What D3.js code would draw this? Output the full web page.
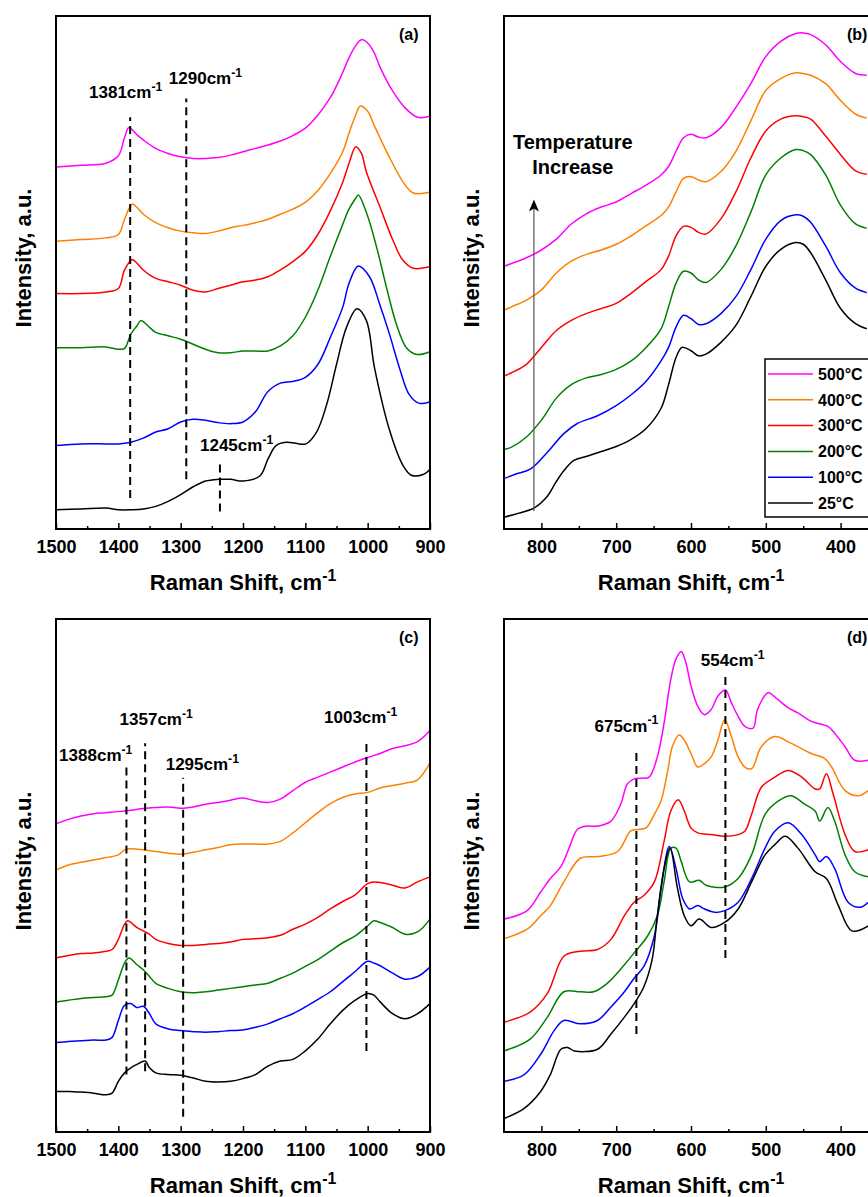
<!DOCTYPE html>
<html>
<head>
<meta charset="utf-8">
<script src="https://cdn.jsdelivr.net/npm/d3@7"></script>
<style>
  body { margin: 0; background: #fff; }
  svg { display: block; }
</style>
</head>
<body>
<svg id="chart" width="868" height="1197"></svg>
<script>
// series labels / colours, top trace first
const temps = ["500°C", "400°C", "300°C", "200°C", "100°C", "25°C"];
const colors = ["#ff00ff", "#ff8000", "#ff0000", "#008000", "#0000ff", "#000000"];

// x ticks
const ticksHigh = [1500, 1400, 1300, 1200, 1100, 1000, 900];
const minorHigh = [1450, 1350, 1250, 1150, 1050, 950];
const ticksLow = [800, 700, 600, 500, 400];
const minorLow = [750, 650, 550, 450];

// panel (a): [Raman shift, intensity a.u.]
const a500 = [[1500,1075],[1460,1080],[1420,1086],[1400,1108],[1390,1162],[1383,1192],[1370,1170],[1360,1155],[1340,1130],[1320,1115],[1300,1105],[1280,1100],[1260,1100],[1240,1103],[1220,1110],[1200,1120],[1180,1130],[1160,1140],[1140,1152],[1120,1168],[1100,1190],[1080,1228],[1060,1280],[1050,1315],[1040,1355],[1030,1398],[1020,1432],[1010,1452],[1000,1442],[990,1415],[980,1370],[960,1300],[940,1250],[920,1222],[900,1225]];
const a400 = [[1500,855],[1460,860],[1420,865],[1400,875],[1390,920],[1378,965],[1370,955],[1360,935],[1340,910],[1320,895],[1300,885],[1280,880],[1260,878],[1240,885],[1220,895],[1200,902],[1180,910],[1160,920],[1140,935],[1120,950],[1100,970],[1080,1005],[1060,1055],[1040,1120],[1030,1175],[1020,1225],[1012,1255],[1000,1240],[990,1200],[980,1160],[964,1100],[943,1030],[927,998],[900,1000]];
const a300 = [[1500,700],[1460,700],[1420,705],[1400,715],[1390,770],[1378,800],[1370,790],[1360,770],[1340,745],[1320,735],[1300,725],[1280,710],[1260,705],[1240,715],[1220,725],[1200,735],[1180,740],[1160,750],[1140,770],[1120,795],[1100,825],[1080,875],[1060,945],[1040,1030],[1030,1085],[1019,1135],[1010,1115],[1002,1060],[981,960],[960,860],[944,800],[927,775],[900,780]];
const a200 = [[1500,540],[1460,540],[1420,542],[1400,535],[1390,538],[1380,580],[1370,605],[1364,620],[1350,600],[1340,585],[1320,575],[1300,565],[1280,550],[1260,535],[1240,525],[1220,525],[1200,530],[1180,530],[1160,530],[1140,545],[1120,575],[1100,630],[1080,710],[1060,810],[1040,905],[1030,950],[1020,980],[1015,992],[1002,940],[986,840],[970,720],[954,610],[938,540],[921,520],[900,528]];
const a100 = [[1500,250],[1460,255],[1420,255],[1400,255],[1380,260],[1360,272],[1340,290],[1320,300],[1300,320],[1280,328],[1260,325],[1240,318],[1220,315],[1200,320],[1180,350],[1160,410],[1140,435],[1120,440],[1100,452],[1080,490],[1060,570],[1040,660],[1030,730],[1015,782],[997,750],[981,670],[965,580],[949,480],[933,400],[917,375],[900,380]];
const a25 = [[1500,60],[1460,62],[1420,65],[1400,60],[1380,60],[1360,62],[1340,70],[1320,85],[1300,105],[1280,128],[1260,145],[1240,150],[1220,150],[1200,145],[1173,160],[1160,210],[1147,250],[1131,260],[1110,255],[1099,255],[1082,290],[1066,370],[1050,490],[1034,600],[1017,655],[1002,620],[989,480],[964,290],[943,190],[930,162],[910,165],[900,180]];

// panel (b)
const b500 = [[850,780],[840,788],[820,805],[800,828],[780,860],[760,905],[740,935],[720,955],[700,970],[680,995],[660,1020],[640,1050],[630,1075],[620,1120],[610,1160],[600,1170],[590,1162],[580,1160],[560,1190],[540,1250],[520,1320],[500,1400],[480,1445],[460,1468],[450,1470],[440,1465],[420,1435],[400,1385],[380,1350],[365,1345]];
const b400 = [[850,650],[840,660],[820,680],[800,710],[780,760],[760,795],[740,815],[720,828],[700,845],[680,870],[660,900],[640,930],[630,955],[620,1000],[610,1040],[600,1045],[590,1035],[580,1030],[560,1060],[540,1120],[520,1210],[500,1300],[480,1335],[460,1352],[450,1350],[440,1345],[420,1320],[400,1270],[380,1230],[365,1218]];
const b300 = [[850,455],[840,465],[820,490],[800,540],[780,590],[760,620],[740,640],[720,655],[700,670],[680,700],[660,735],[640,770],[630,810],[620,870],[610,898],[600,895],[590,880],[580,875],[560,920],[540,1000],[520,1100],[500,1180],[480,1215],[460,1225],[450,1222],[440,1215],[420,1165],[400,1110],[380,1062],[365,1052]];
const b200 = [[850,238],[840,245],[820,275],[800,325],[780,390],[760,430],[740,450],[720,460],[700,475],[680,500],[660,540],[640,595],[630,660],[620,730],[610,765],[600,760],[590,740],[580,732],[560,770],[540,840],[520,940],[500,1050],[480,1100],[460,1125],[450,1122],[440,1110],[420,1050],[400,960],[380,905],[365,892]];
const b100 = [[850,152],[835,165],[815,180],[792,230],[770,285],[752,315],[725,338],[700,368],[680,400],[660,440],[640,500],[630,540],[620,600],[610,635],[600,625],[590,608],[580,610],[560,640],[540,690],[520,770],[500,860],[480,915],[460,932],[450,928],[440,910],[420,840],[400,760],[380,715],[365,702]];
const b25 = [[850,38],[830,50],[810,65],[792,100],[781,140],[770,175],[757,205],[739,218],[720,232],[700,247],[680,268],[660,300],[640,360],[630,430],[620,510],[612,540],[600,530],[590,515],[580,520],[560,555],[540,605],[520,690],[500,780],[480,830],[460,850],[450,845],[440,820],[420,740],[400,655],[380,610],[365,595]];

// panel (c)
const c500 = [[1500,912],[1480,925],[1460,935],[1440,942],[1420,945],[1400,948],[1380,952],[1360,957],[1340,960],[1320,962],[1300,958],[1280,962],[1260,970],[1240,975],[1220,982],[1200,988],[1180,980],[1160,975],[1140,985],[1120,1010],[1100,1035],[1080,1050],[1060,1065],[1040,1080],[1020,1095],[1000,1108],[980,1120],[960,1135],[940,1143],[920,1155],[900,1188]];
const c400 = [[1500,775],[1480,790],[1460,798],[1440,805],[1420,812],[1400,820],[1390,835],[1380,838],[1360,835],[1340,830],[1320,825],[1300,822],[1280,828],[1260,835],[1240,842],[1220,850],[1200,852],[1180,852],[1160,852],[1140,860],[1120,885],[1100,915],[1080,945],[1060,972],[1040,990],[1020,1000],[1000,1005],[980,1018],[960,1025],[940,1032],[920,1042],[900,1092]];
const c300 = [[1500,515],[1480,522],[1460,528],[1440,530],[1420,535],[1410,540],[1400,570],[1390,615],[1385,625],[1370,605],[1360,595],[1350,585],[1340,570],[1320,558],[1300,552],[1280,552],[1260,555],[1240,558],[1220,562],[1200,570],[1180,572],[1160,575],[1140,582],[1120,600],[1100,615],[1080,635],[1060,660],[1040,682],[1020,702],[1000,735],[990,740],[980,738],[960,730],[940,722],[920,740],[900,755]];
const c200 = [[1500,385],[1480,390],[1460,395],[1440,398],[1420,400],[1410,405],[1400,450],[1390,500],[1383,515],[1370,495],[1360,480],[1350,460],[1340,440],[1320,425],[1300,415],[1280,412],[1260,415],[1240,420],[1220,425],[1200,430],[1180,435],[1160,440],[1140,455],[1120,470],[1100,490],[1080,510],[1060,535],[1040,560],[1020,580],[1000,610],[990,625],[980,620],[960,605],[940,585],[920,592],[900,630]];
const c100 = [[1500,265],[1480,268],[1460,270],[1440,272],[1420,272],[1410,280],[1400,330],[1390,375],[1380,380],[1370,368],[1360,372],[1350,350],[1340,320],[1320,305],[1300,300],[1280,297],[1260,295],[1240,297],[1220,300],[1200,302],[1180,310],[1160,320],[1140,335],[1120,350],[1100,370],[1080,392],[1060,415],[1040,445],[1020,475],[1000,505],[990,500],[980,492],[960,470],[940,452],[920,460],[900,488]];
const c25 = [[1500,120],[1480,120],[1460,118],[1440,115],[1420,110],[1410,115],[1400,150],[1390,175],[1380,190],[1370,200],[1357,210],[1350,190],[1340,175],[1320,170],[1300,168],[1280,160],[1260,150],[1240,148],[1220,150],[1200,158],[1180,170],[1160,195],[1140,210],[1120,215],[1100,240],[1080,275],[1060,320],[1040,360],[1020,390],[1000,410],[990,405],[980,385],[960,350],[940,335],[920,350],[900,380]];

// panel (d)
const d500 = [[850,630],[819,655],[801,710],[788,750],[774,785],[763,840],[752,895],[740,905],[725,905],[707,920],[694,970],[685,1030],[676,1045],[666,1047],[656,1050],[645,1110],[636,1210],[627,1340],[620,1400],[613,1422],[607,1390],[600,1320],[591,1260],[582,1235],[573,1250],[564,1290],[554,1308],[546,1270],[537,1230],[528,1200],[517,1195],[511,1250],[497,1300],[484,1280],[470,1255],[457,1240],[439,1215],[417,1200],[408,1180],[394,1140],[381,1100],[363,1100]];
const d400 = [[850,572],[819,600],[801,640],[788,670],[770,740],[748,810],[725,815],[698,830],[681,890],[672,895],[660,900],[649,940],[640,980],[631,1070],[625,1140],[616,1175],[609,1160],[600,1120],[591,1080],[582,1090],[573,1110],[564,1160],[555,1220],[546,1170],[537,1110],[528,1080],[519,1075],[506,1140],[488,1170],[466,1150],[439,1120],[421,1105],[412,1080],[394,1010],[376,995],[363,1010]];
const d300 = [[850,325],[815,355],[792,410],[770,520],[748,535],[725,540],[707,570],[689,640],[676,680],[663,700],[649,740],[636,860],[627,950],[617,983],[609,950],[600,900],[591,885],[573,880],[555,875],[537,880],[528,890],[519,940],[506,1020],[488,1050],[470,1070],[452,1050],[434,1015],[428,1015],[419,1060],[410,1000],[394,880],[381,830],[363,835]];
const d200 = [[850,240],[815,275],[792,340],[770,415],[748,415],[730,415],[712,440],[689,495],[676,530],[658,580],[645,640],[636,740],[627,840],[620,840],[613,800],[602,740],[589,745],[580,730],[555,725],[537,750],[519,820],[501,940],[483,980],[466,995],[448,970],[434,950],[428,920],[417,960],[408,920],[394,820],[381,770],[363,755]];
const d100 = [[850,150],[823,170],[801,230],[783,300],[770,330],[748,320],[725,330],[707,370],[689,415],[676,455],[663,490],[649,580],[640,720],[629,845],[620,780],[611,690],[602,660],[591,670],[582,660],[568,650],[555,655],[537,680],[519,750],[501,840],[488,890],[470,915],[452,880],[434,820],[428,800],[419,815],[408,780],[390,680],[374,665],[363,680]];
const d25 = [[850,40],[823,70],[801,120],[788,170],[774,245],[765,250],[756,240],[725,245],[707,290],[689,340],[676,380],[663,430],[652,510],[645,640],[636,780],[628,840],[618,720],[609,640],[600,610],[589,630],[573,605],[555,620],[537,660],[519,740],[501,820],[488,850],[474,875],[457,840],[434,770],[419,750],[403,670],[385,595],[363,610]];

// marked bands: label, position, dashed line span [from, to] and label anchor [shift, intensity]
const peaksA = [
  { label: "1381", at: 1381, span: [95, 1222], text: [1447, 1278] },
  { label: "1290", at: 1291, span: [150, 1278], text: [1319, 1320] },
  { label: "1245", at: 1237, span: [55, 202], text: [1269, 235] }
];
const peaksC = [
  { label: "1388", at: 1387, span: [170, 1085], text: [1495, 1098] },
  { label: "1357", at: 1357, span: [180, 1150], text: [1398, 1205] },
  { label: "1295", at: 1296, span: [45, 1048], text: [1324, 1072] },
  { label: "1003", at: 1002, span: [240, 1155], text: [1070, 1210] }
];
const peaksD = [
  { label: "675", at: 673, span: [290, 1125], text: [729, 1185] },
  { label: "554", at: 554, span: [515, 1352], text: [587, 1378] }
];

const FONT = '"Liberation Sans", Arial, Helvetica, sans-serif';
const W = 374, H = 513;

const panels = [
  { tag: "(a)", left: 56, top: 16, xd: [1500, 900], yd: [3, 1522], major: ticksHigh, minor: minorHigh,
    series: [a500, a400, a300, a200, a100, a25], peaks: peaksA },
  { tag: "(b)", left: 504, top: 16, xd: [850, 350], yd: [3, 1520], major: ticksLow, minor: minorLow,
    series: [b500, b400, b300, b200, b100, b25], peaks: [], legend: true },
  { tag: "(c)", left: 56, top: 619, xd: [1500, 900], yd: [0, 1518], major: ticksHigh, minor: minorHigh,
    series: [c500, c400, c300, c200, c100, c25], peaks: peaksC },
  { tag: "(d)", left: 504, top: 619, xd: [850, 350], yd: [0, 1518], major: ticksLow, minor: minorLow,
    series: [d500, d400, d300, d200, d100, d25], peaks: peaksD }
];

const svg = d3.select("#chart").style("font-family", FONT);

// text with a "-1" style superscript
function supText(g, x, y, base, sup, size, anchor) {
  const t = g.append("text")
    .attr("x", x).attr("y", y)
    .attr("font-size", size)
    .attr("font-weight", "bold")
    .attr("text-anchor", anchor || "start");
  t.append("tspan").text(base);
  t.append("tspan").attr("dy", -size * 0.42).attr("font-size", size * 0.72).text(sup);
  return t;
}

panels.forEach(p => {
  const g = svg.append("g");
  const x = d3.scaleLinear().domain(p.xd).range([p.left, p.left + W]);
  const y = d3.scaleLinear().domain(p.yd).range([p.top + H, p.top]);
  const line = d3.line()
    .x(d => x(d[0]))
    .y(d => y(d[1]))
    .curve(d3.curveCatmullRom.alpha(0.5));

  g.selectAll("path.trace")
    .data(p.series)
    .join("path")
    .attr("class", "trace")
    .attr("d", line)
    .attr("fill", "none")
    .attr("stroke", (d, i) => colors[i])
    .attr("stroke-width", 1.5)
    .attr("stroke-linejoin", "round");

  // dashed band markers
  p.peaks.forEach(pk => {
    g.append("line")
      .attr("x1", x(pk.at)).attr("x2", x(pk.at))
      .attr("y1", y(pk.span[0])).attr("y2", y(pk.span[1]))
      .attr("stroke", "#000")
      .attr("stroke-width", 2)
      .attr("stroke-dasharray", "8,5");
    supText(g, x(pk.text[0]), y(pk.text[1]), pk.label + "cm", "-1", 17);
  });

  // axes, ticks inside
  const xb = p.top + H;
  g.append("g")
    .attr("transform", `translate(0,${xb})`)
    .call(d3.axisBottom(x).tickValues(p.minor).tickSize(-3).tickFormat(""))
    .call(a => a.select(".domain").remove())
    .call(a => a.selectAll("line").attr("stroke-width", 1.5));
  g.append("g")
    .attr("transform", `translate(0,${xb})`)
    .call(d3.axisBottom(x).tickValues(p.major).tickSize(-6).tickPadding(11.5).tickFormat(d3.format("d")))
    .call(a => a.select(".domain").remove())
    .call(a => a.selectAll("line").attr("stroke-width", 1.5))
    .call(a => a.selectAll("text")
      .attr("font-family", FONT)
      .attr("font-size", 18)
      .attr("font-weight", "bold")
      .attr("fill", "#000"));

  g.append("rect")
    .attr("x", p.left).attr("y", p.top)
    .attr("width", W).attr("height", H)
    .attr("fill", "none")
    .attr("stroke", "#000")
    .attr("stroke-width", 2);

  g.append("text")
    .attr("x", p.left + W - 31).attr("y", p.top + 24)
    .attr("font-size", 16).attr("font-weight", "bold")
    .text(p.tag);

  // axis titles
  supText(g, p.left + W / 2, xb + 61, "Raman Shift, cm", "-1", 22, "middle");
  g.append("text")
    .attr("transform", `translate(${p.left - 25},${p.top + 242}) rotate(-90)`)
    .attr("text-anchor", "middle")
    .attr("font-size", 22).attr("font-weight", "bold")
    .text("Intensity, a.u.");

  if (p.legend) {
    const lg = g.append("g");
    lg.append("rect")
      .attr("x", 765).attr("y", 359)
      .attr("width", 113).attr("height", 158)
      .attr("fill", "#fff").attr("stroke", "#000").attr("stroke-width", 1.5);
    temps.forEach((t, i) => {
      const yy = 374 + i * 25.8;
      lg.append("line")
        .attr("x1", 768).attr("x2", 813)
        .attr("y1", yy).attr("y2", yy)
        .attr("stroke", colors[i]).attr("stroke-width", 1.5);
      lg.append("text")
        .attr("x", 818).attr("y", yy)
        .attr("dy", "0.36em")
        .attr("font-size", 16).attr("font-weight", "bold")
        .text(t);
    });

    // temperature arrow
    const ax = x(810);
    g.append("line")
      .attr("x1", ax).attr("x2", ax)
      .attr("y1", y(56)).attr("y2", y(965))
      .attr("stroke", "#555").attr("stroke-width", 1.2);
    const ty = y(977);
    g.append("path")
      .attr("d", `M${ax},${ty} L${ax - 5},${ty + 12} L${ax},${ty + 9} L${ax + 5},${ty + 12} Z`)
      .attr("fill", "#000");
    const tt = g.append("text")
      .attr("text-anchor", "middle")
      .attr("font-size", 20).attr("font-weight", "bold");
    tt.append("tspan").attr("x", x(758)).attr("y", y(1128)).text("Temperature");
    tt.append("tspan").attr("x", x(758)).attr("y", y(1054)).text("Increase");
  }
});
</script>
</body>
</html>
